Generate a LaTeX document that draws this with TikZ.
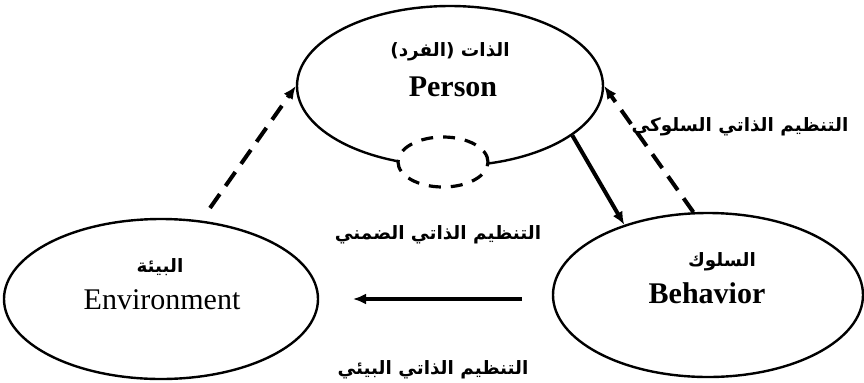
\documentclass[tikz,border=0pt]{standalone}
\usepackage{fontspec}
\setmainfont{Liberation Serif}
\newfontfamily\arabicfont[Script=Arabic]{DejaVu Sans}
\TeXXeTstate=1
\usetikzlibrary{arrows.meta, positioning, shapes.geometric}

\begin{document}
\begin{tikzpicture}[x=0.5pt, y=-0.5pt, >={Latex[length=6.5pt,width=5.5pt]},
        oval/.style={draw, ellipse, line width=1.2pt, inner sep=0pt},
        artext/.style={font=\arabicfont\bfseries\fontsize{9.2}{11}\selectfont, inner sep=1pt},
        entext/.style={font=\fontsize{15}{17}\selectfont, inner sep=1pt},
        dashlink/.style={->, line width=2pt, dash pattern=on 8.5pt off 5pt},
        solidlink/.style={->, line width=2pt}]
        \useasboundingbox (0,0) rectangle (864,382);

        % Nodes
        \node[oval, minimum width=153pt, minimum height=80pt] (person) at (450,86) {};
        \node[oval, dash pattern=on 6pt off 5pt, line width=1.6pt, fill=white,
              minimum width=45pt, minimum height=25pt] (innerloop) at (443,162) {};
        \node[oval, minimum width=155pt, minimum height=82pt] (behavior) at (708,295) {};
        \node[oval, minimum width=157pt, minimum height=80pt] (environment) at (161,299) {};

        % Texts in the ovals
        \node[artext] (personAr) at (450,52) {\beginR الذات (الفرد)\endR};
        \node[entext, font=\bfseries\fontsize{15}{17}\selectfont] (personEn) at (453,87) {Person};
        \node[artext] (behaviorAr) at (722,262) {\beginR السلوك\endR};
        \node[entext, font=\bfseries\fontsize{15}{17}\selectfont] (behaviorEn) at (707,293) {Behavior};
        \node[artext] (environmentAr) at (160,267) {\beginR البيئة\endR};
        \node[entext] (environmentEn) at (162,300) {Environment};

        % Free ends
        \coordinate (envTail) at (210,208);
        \coordinate (bhvTail) at (522,299);
        \coordinate (envHead) at (353,299);

        % Connections
        \draw[dashlink] (envTail) -- (person.west);
        \draw[solidlink] (person.-22) -- (behavior.140);
        \draw[dashlink] (behavior.100) -- (person.east);
        \draw[solidlink] (bhvTail) -- (envHead);

        % Labels
        \node[artext] (behavioralLbl) at (740,127) {\beginR التنظيم الذاتي السلوكي\endR};
        \node[artext] (covertLbl) at (438,235) {\beginR التنظيم الذاتي الضمني\endR};
        \node[artext] (environmentalLbl) at (433,370) {\beginR التنظيم الذاتي البيئي\endR};
    \end{tikzpicture}
\end{document}
